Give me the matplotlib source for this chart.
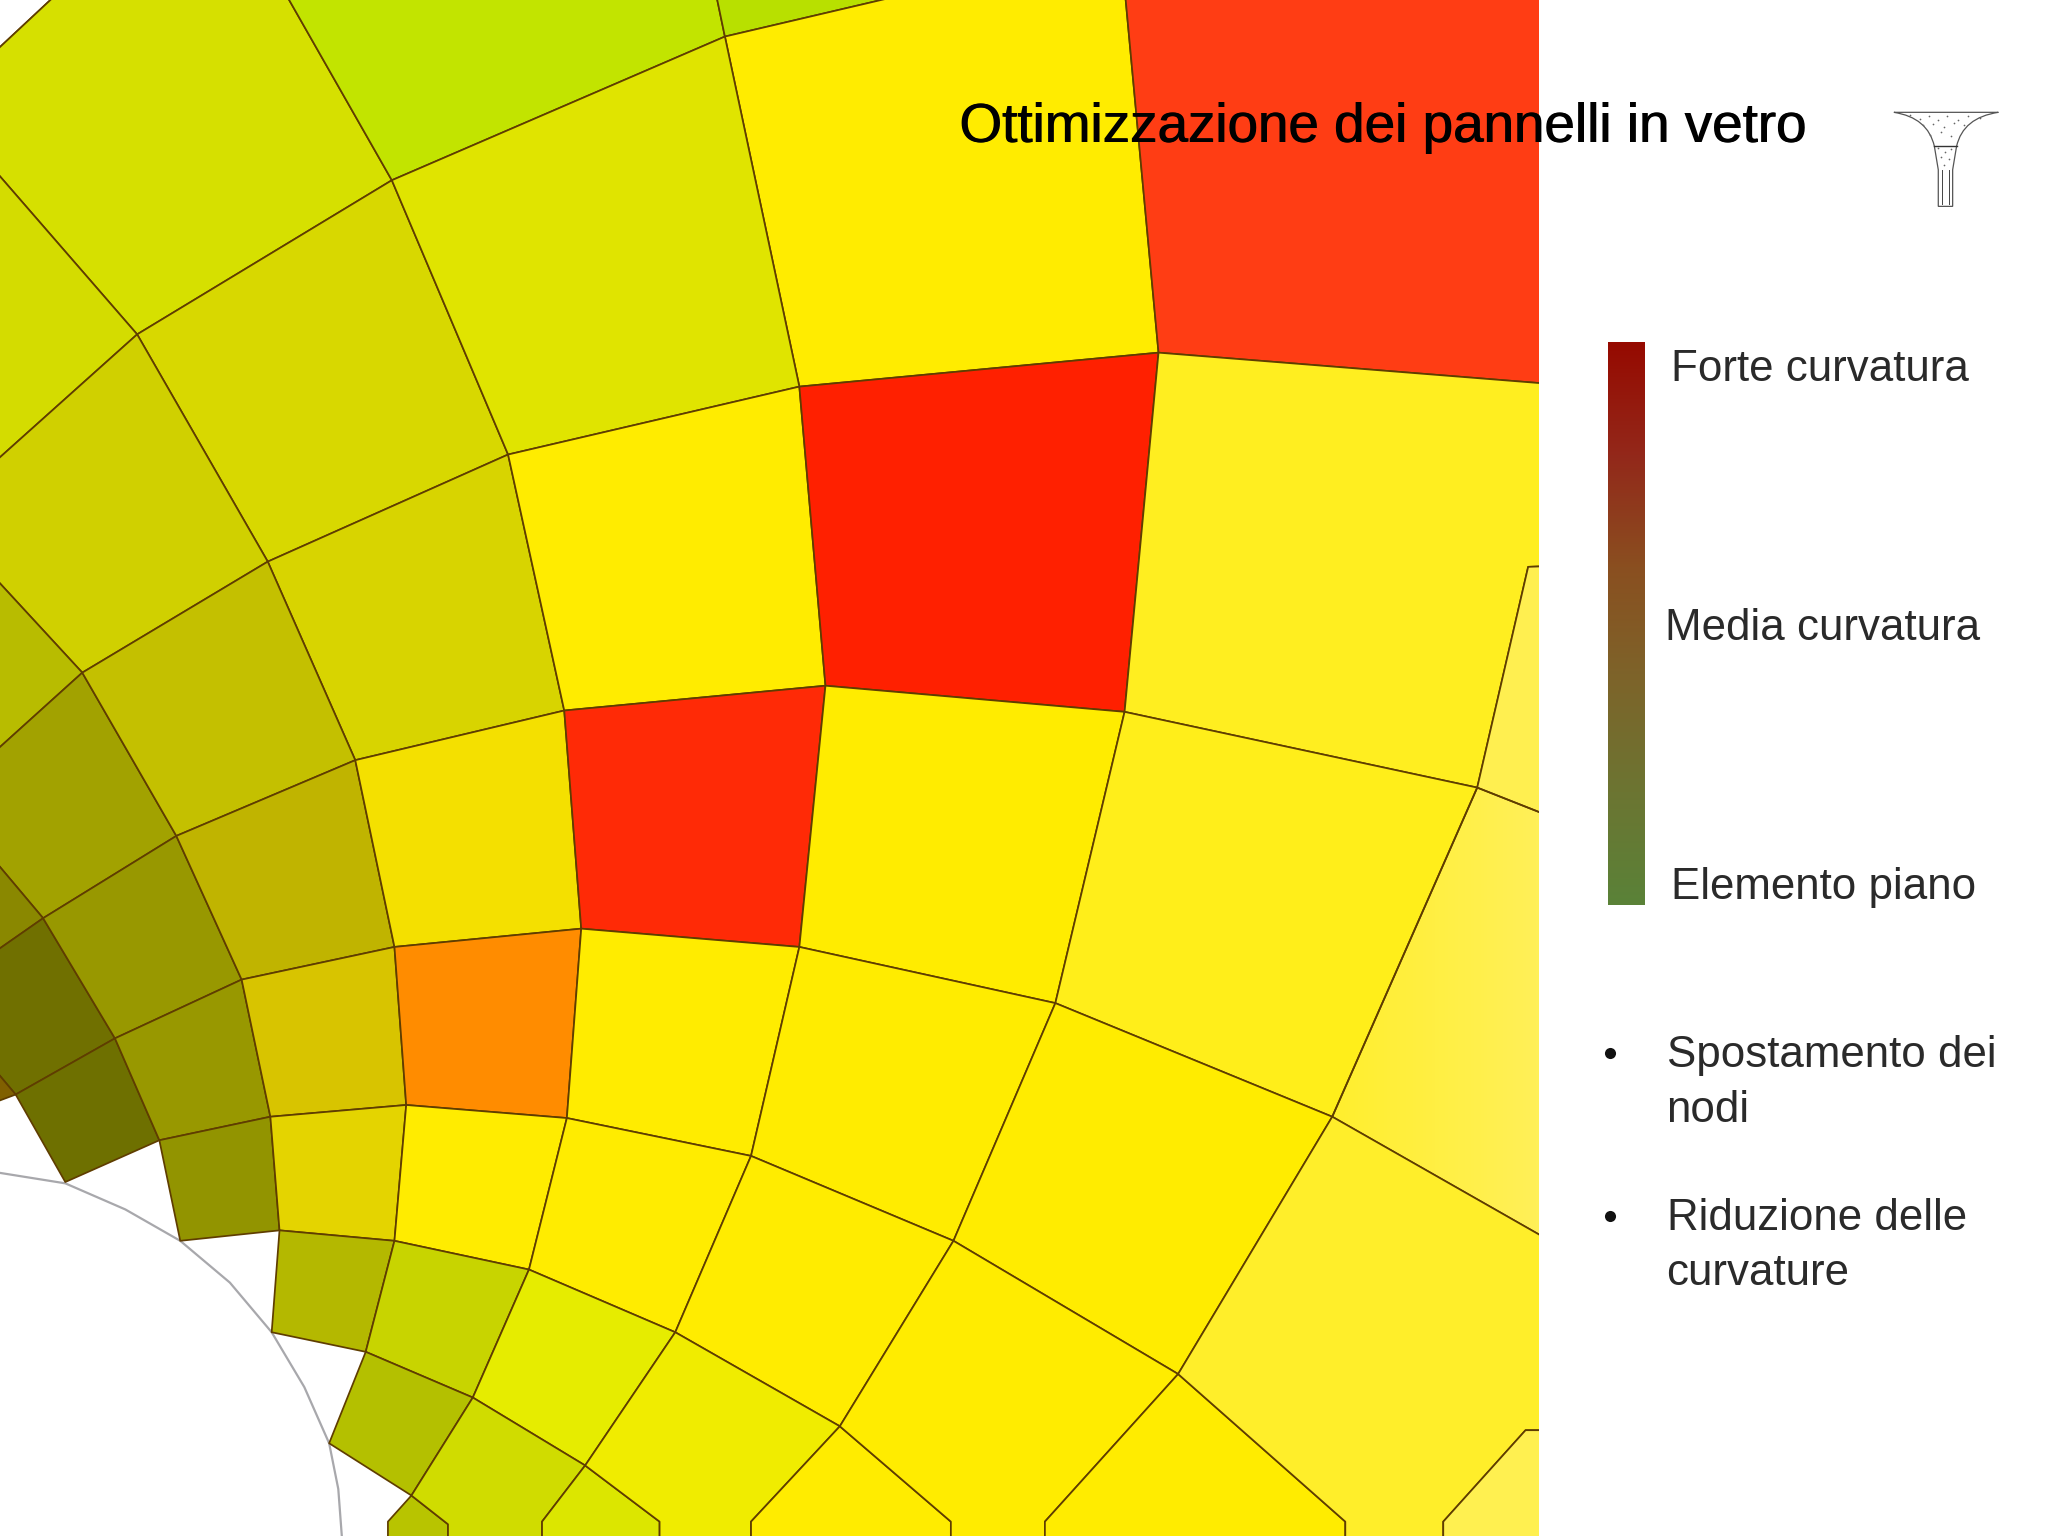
import matplotlib
matplotlib.use("Agg")
import matplotlib.pyplot as plt
import numpy as np
from matplotlib.collections import PolyCollection
from matplotlib.colors import LinearSegmentedColormap
from matplotlib.patches import PathPatch, Polygon, Rectangle
from matplotlib.path import Path

plt.rcParams["font.family"] = ["Liberation Sans", "DejaVu Sans"]

# mesh nodes, in a 1568 x 1176 frame
NODES = {
    "a0": (-30, 64), "a1": (60, -20), "a2": (210, -20), "a3": (545, -20), "a4": (860, -20), "a5": (1250, -20),
    "a6": (760, -20),
    "b0": (-20, 112), "b1": (105, 256), "b2": (300, 138), "b3": (555, 28), "b4": (887, 270), "b5": (1250, 299),
    "c0": (-20, 368), "c1": (-20, 425), "c2": (63, 515), "c3": (205, 430), "c4": (389, 348), "c5": (612, 296),
    "d0": (-20, 590), "d1": (-20, 640), "d2": (33, 703), "d3": (135, 640), "d4": (272, 582), "d5": (432, 544),
    "d6": (632, 525), "d7": (861, 545), "d8": (1131, 603), "d9": (1250, 650),
    "e0": (-20, 740), "e1": (-20, 800), "e2": (12, 838), "e3": (88, 795), "e4": (185, 750), "e5": (302, 725),
    "e6": (445, 711), "e7": (612, 725), "e8": (808, 768), "e9": (1020, 855), "e10": (1250, 986),
    "f0": (-20, 850), "f1": (50, 905), "f2": (122, 873), "f3": (207, 855), "f4": (311, 846), "f5": (434, 856),
    "f6": (575, 885), "f7": (730, 950), "f8": (902, 1052),
    "g2": (138, 950), "g3": (214, 942), "g4": (302, 950), "g5": (405, 972),
    "g6": (517, 1020), "g7": (643, 1092),
    "h0": (208, 1020), "h1": (280, 1035), "h2": (362, 1070), "h3": (448, 1122),
    "i0": (252, 1105), "i1": (315, 1145),
    "j0": (1170, 434), "j1": (1250, 431),
    "k0": (297, 1165), "k1": (297, 1200), "k2": (343, 1167), "k3": (343, 1200), "k4": (415, 1165), "k5": (415, 1200),
    "k6": (505, 1165), "k7": (505, 1200), "k8": (575, 1165), "k9": (575, 1200), "k10": (728, 1165), "k11": (728, 1200),
    "k12": (800, 1165), "k13": (800, 1200), "k14": (1030, 1165), "k15": (1030, 1200), "k16": (1105, 1165),
    "k17": (1105, 1200), "k18": (1168, 1095), "k19": (1250, 1095), "k20": (1250, 1200),
}

CELLS = [
    ["a0", "a1", "a0"], ["a1", "a2", "b2", "b1", "b0", "a0"], ["a2", "a3", "b3", "b2"], ["a3", "a6", "b3"],
    ["b3", "a6", "a4", "b4", "c5"], ["a4", "a5", "b5", "b4"],
    ["b0", "b1", "c0"], ["b1", "b2", "c4", "c3"], ["b2", "b3", "c5", "c4"],
    ["c0", "b1", "c3", "c2", "c1"], ["c3", "c4", "d5", "d4"], ["c4", "c5", "d6", "d5"], ["c5", "b4", "d7", "d6"],
    ["b4", "b5", "j1", "j0", "d8", "d7"], ["j0", "j1", "d9", "d8"],
    ["c1", "c2", "d0"], ["d0", "c2", "d3", "d2", "d1"], ["c2", "c3", "d4", "d3"],
    ["d1", "d2", "e0"], ["e0", "d2", "e3", "e2", "e1"], ["d2", "d3", "e4", "e3"], ["d3", "d4", "e5", "e4"],
    ["d4", "d5", "e6", "e5"], ["d5", "d6", "e7", "e6"], ["d6", "d7", "e8", "e7"], ["d7", "d8", "e9", "e8"],
    ["d8", "d9", "e10", "e9"],
    ["e1", "e2", "f0"], ["e2", "e3", "f2", "f1"], ["e3", "e4", "f3", "f2"], ["e4", "e5", "f4", "f3"],
    ["e5", "e6", "f5", "f4"], ["e6", "e7", "f6", "f5"], ["e7", "e8", "f7", "f6"], ["e8", "e9", "f8", "f7"],
    ["f2", "f3", "g3", "g2"], ["f3", "f4", "g4", "g3"], ["f4", "f5", "g5", "g4"], ["f5", "f6", "g6", "g5"],
    ["f6", "f7", "g7", "g6"],
    ["g3", "g4", "h1", "h0"], ["g4", "g5", "h2", "h1"], ["g5", "g6", "h3", "h2"],
    ["h1", "h2", "i1", "i0"],
    ["i1", "k2", "k3", "k1", "k0"], ["h2", "h3", "k4", "k5", "k3", "k2", "i1"], ["h3", "k6", "k7", "k5", "k4"],
    ["g6", "g7", "k8", "k9", "k7", "k6", "h3"], ["g7", "k10", "k11", "k9", "k8"],
    ["f7", "f8", "k12", "k13", "k11", "k10", "g7"], ["f8", "k14", "k15", "k13", "k12"],
    ["e9", "e10", "k19", "k18", "k16", "k17", "k15", "k14", "f8"], ["k16", "k18", "k19", "k20", "k17"],
]

CELL_COLORS = [
    "#d2dc00", "#d6e000", "#c2e400", "#b8e000",
    "#ffec00", "#ff3d14",
    "#d4dc00", "#d8d800", "#e0e400",
    "#d0d000", "#d8d400", "#ffec00", "#ff2000",
    "#ffee20", "#ffef50",
    "#b8bc00", "#a2a200", "#c4c000",
    "#8a8800", "#707000", "#989800", "#c0b400",
    "#f4e000", "#ff2a06", "#ffec00", "#ffee1a",
    "none",
    "#806000", "#6e7000", "#989800", "#d8c400",
    "#ff8c00", "#ffec00", "#ffec00", "#ffec00",
    "#929400", "#e4d400", "#ffec00", "#ffec00",
    "#ffec00",
    "#b4b800", "#c8d400", "#e6ec00",
    "#b4c000",
    "#b8c400", "#d0dc00", "#dce600",
    "#f0ec00", "#ffec00",
    "#ffec00", "#ffec00",
    "#ffee2a", "#fff050",
]

# the palest cell fades from left to right
FADE_CELL = 26
FADE_COLORS = ["#ffee2e", "#fff058"]

ARC_X = [0, 50, 96, 138, 176, 208, 233, 252, 259, 262]
ARC_Y = [898, 906, 926, 950, 982, 1020, 1062, 1105, 1140, 1180]

SCALE_COLORS = ["#960a00", "#93281a", "#8a4f20", "#7d642a", "#6c7532", "#5a8238"]
SCALE_LABELS = ["Forte curvatura", "Media curvatura", "Elemento piano"]
SCALE_LABEL_X = [1279, 1275, 1279]
SCALE_LABEL_Y = [292, 490, 688]

BULLET_Y = [806, 931]
BULLET_LINES = ["Spostamento dei", "nodi", "Riduzione delle", "curvature"]
BULLET_LINE_Y = [817, 859, 942, 984]

ICON_DOTS_X = [1462, 1470, 1477, 1484, 1491, 1499, 1507, 1516, 1472, 1480, 1488, 1496, 1504, 1478, 1486, 1494,
               1484, 1489, 1494, 1486, 1492, 1488]
ICON_DOTS_Y = [88, 91, 89, 92, 89, 92, 89, 90, 96, 95, 97, 94, 96, 103, 101, 104,
               113, 116, 114, 120, 122, 126]

fig = plt.figure(figsize=(20.48, 15.36), dpi=100)
ax = fig.add_axes([0, 0, 1, 1])
ax.set_xlim(0, 1568)
ax.set_ylim(1176, 0)
ax.axis("off")

polys = [[NODES[n] for n in cell] for cell in CELLS]
mesh_clip = Rectangle((0, 0), 1178, 1176, transform=ax.transData)

fade_cmap = LinearSegmentedColormap.from_list("fade", FADE_COLORS)
fade = ax.imshow(np.linspace(0, 1, 64).reshape(1, -1), cmap=fade_cmap, extent=(1020, 1178, 1000, 590),
                 aspect="auto", zorder=1.5)
fade.set_clip_path(Polygon(polys[FADE_CELL], transform=ax.transData))

mesh = PolyCollection(polys, facecolors=CELL_COLORS, edgecolors="#5f3d00", linewidths=1.25, zorder=2)
ax.add_collection(mesh)
mesh.set_clip_path(mesh_clip)

ax.plot(ARC_X, ARC_Y, color="#a8a8ac", lw=1.6, zorder=1)

cmap = LinearSegmentedColormap.from_list("curv", SCALE_COLORS)
ax.imshow(np.linspace(0, 1, 256).reshape(-1, 1), cmap=cmap, extent=(1231, 1259, 693, 262), aspect="auto", zorder=3)
ax.set_xlim(0, 1568)
ax.set_ylim(1176, 0)

# title looks slightly doubled in the slide
for dx in (0, 0.7):
    ax.text(734 + dx, 108.5, "Ottimizzazione dei pannelli in vetro", fontsize=39.4, color="black",
            ha="left", va="baseline", zorder=5)

for label, x, y in zip(SCALE_LABELS, SCALE_LABEL_X, SCALE_LABEL_Y):
    ax.text(x, y, label, fontsize=31.6, color="#2a2a2a", ha="left", va="baseline", zorder=5)

for y in BULLET_Y:
    ax.plot([1233], [y], "o", color="#111111", ms=8, mew=0, zorder=5)
for line, y in zip(BULLET_LINES, BULLET_LINE_Y):
    ax.text(1276, y, line, fontsize=31.6, color="#2a2a2a", ha="left", va="baseline", zorder=5)

# small column icon
icon = Path(
    [(1450, 86), (1476, 90), (1481, 112), (1484, 130), (1484, 158), (1495, 158), (1495, 130), (1498, 112),
     (1503, 90), (1530, 86), (1450, 86)],
    [Path.MOVETO, Path.CURVE3, Path.CURVE3, Path.LINETO, Path.LINETO, Path.LINETO, Path.LINETO, Path.LINETO,
     Path.CURVE3, Path.CURVE3, Path.LINETO],
)
ax.add_patch(PathPatch(icon, facecolor="white", edgecolor="#555555", lw=0.9, zorder=4))
ax.plot([1481, 1498], [112, 112], color="#333333", lw=1, zorder=5)
ax.plot([1487, 1487], [130, 156], color="#444444", lw=0.7, zorder=5)
ax.plot([1492, 1492], [130, 156], color="#444444", lw=0.7, zorder=5)
ax.scatter(ICON_DOTS_X, ICON_DOTS_Y, s=1.5, color="#666666", linewidths=0, zorder=5)

fig.savefig("out.png", dpi=100, facecolor="white")
